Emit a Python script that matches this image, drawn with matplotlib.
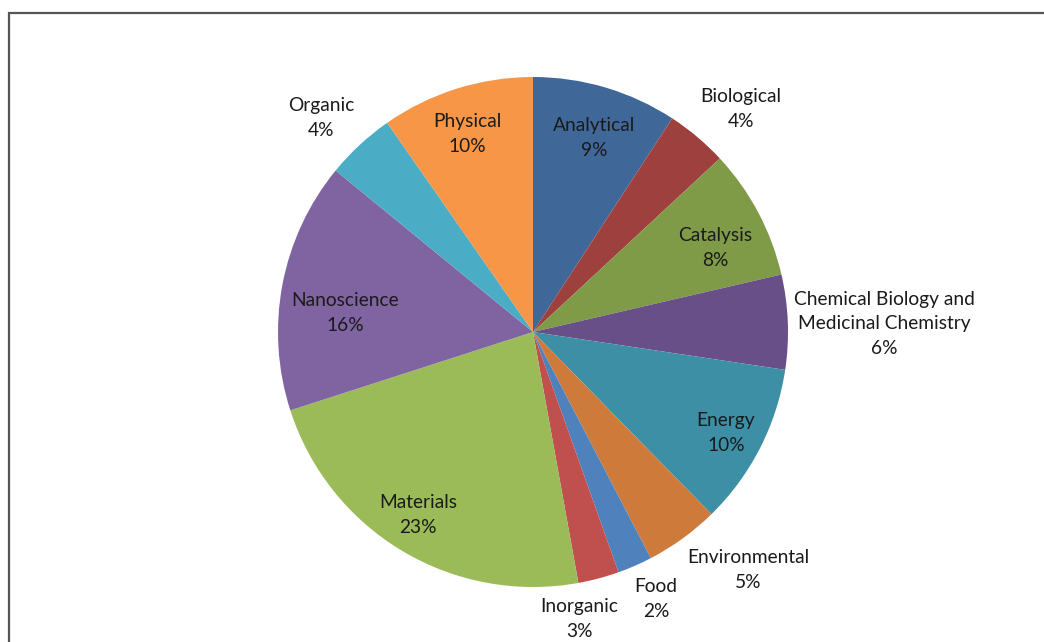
import matplotlib
matplotlib.use("Agg")
from matplotlib import pyplot as plt
from matplotlib.patches import Rectangle

# data (share of each field, %)
fields = ["Analytical", "Biological", "Catalysis",
          "Chemical Biology and\nMedicinal Chemistry", "Energy", "Environmental",
          "Food", "Inorganic", "Materials", "Nanoscience", "Organic", "Physical"]
shares = [9.2, 3.9, 8.3, 6.0, 10.3, 4.7, 2.2, 2.6, 22.9, 15.9, 4.4, 9.7]

colors = ["#3F6899", "#9E403D", "#7F9B48", "#684F87", "#3D8FA5", "#CD7A3A",
          "#4F81BD", "#C0504D", "#9BBB59", "#8064A2", "#4BACC6", "#F79646"]

# label anchor points in pixel layout (x, y from top)
label_pos = [(594, 138), (741, 109), (715, 248), (884, 324), (726, 433),
             (748, 570), (656, 599), (579, 619), (418, 515), (345, 313),
             (321, 118), (467, 134)]

W, H = 1044, 642


def main():
    plt.rcParams['font.family'] = ['Lato', 'DejaVu Sans']
    fig = plt.figure(figsize=(W / 100, H / 100), dpi=100)
    ax = fig.add_axes([0, 0, 1, 1])

    ax.pie(shares, colors=colors, startangle=90, counterclock=False,
           center=(533, H - 332), radius=255,
           wedgeprops=dict(linewidth=0))
    ax.set_xlim(0, W)
    ax.set_ylim(0, H)
    ax.set_aspect('equal')
    ax.axis('off')

    for name, v, (x, y) in zip(fields, shares, label_pos):
        ax.text(x, H - y, "{}\n{}%".format(name, round(v)), ha='center', va='center',
                fontsize=13.8, color='#1a1a1a', linespacing=1.55)

    # outer frame of the chart area
    fig.patches.append(Rectangle((9 / W, -0.1), 1.2, (H - 13) / H + 0.1,
                                 transform=fig.transFigure, fill=False,
                                 edgecolor='#555555', linewidth=1.6))
    fig.savefig("out.png", dpi=100)


if __name__ == "__main__":
    main()
